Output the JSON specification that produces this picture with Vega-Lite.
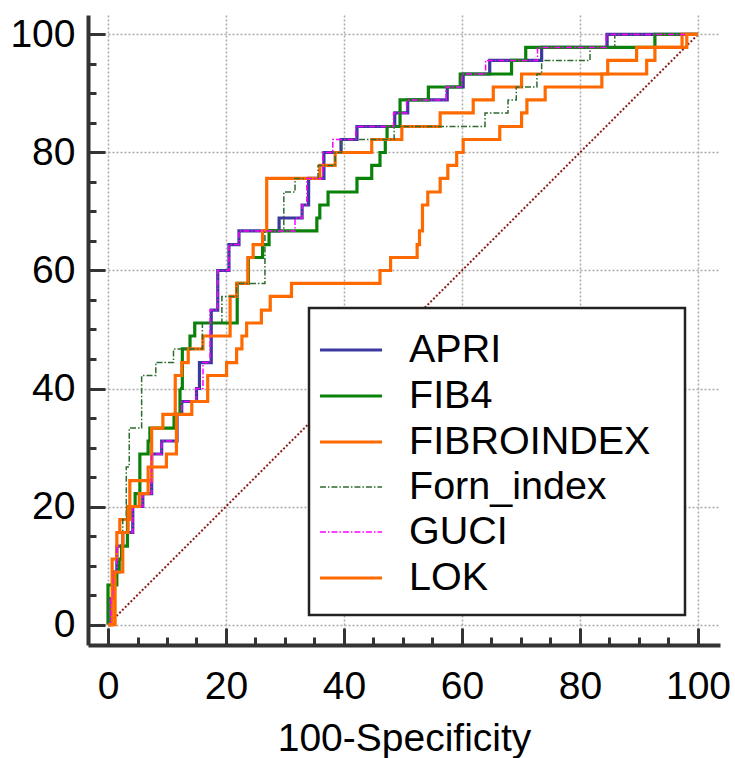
{
"$schema": "https://vega.github.io/schema/vega-lite/v6.json",
"width": 632, "height": 630,
"autosize": {"type": "none"},
"padding": {"left": 88, "top": 15, "right": 15, "bottom": 113},
"background": "white",
"config": {"view": {"stroke": null}, "font": "Liberation Sans",
"legend": {"title": "\u00a0", "titleOrient": "right", "titleFontSize": 1, "titlePadding": 18, "orient": "none", "legendX": 221, "legendY": 293, "labelFontSize": 39.5, "labelColor": "#000", "labelLimit": 500, "symbolType": "M-1.35,0L1.35,0", "symbolSize": 2116, "labelOffset": 33, "padding": 17, "rowPadding": 1.0, "fillColor": "white", "strokeColor": "#222"}},
"datasets": {
"diag": [{"x":0,"y":0},{"x":100,"y":100}],
"roc": [
{"s":"APRI","x":0,"y":0},{"s":"APRI","x":0.5,"y":0},{"s":"APRI","x":0.5,"y":4.4},{"s":"APRI","x":0.9,"y":4.4},{"s":"APRI","x":0.9,"y":8.9},{"s":"APRI","x":1.5,"y":8.9},{"s":"APRI","x":1.5,"y":13.3},{"s":"APRI","x":2.5,"y":13.3},{"s":"APRI","x":2.5,"y":15.6},{"s":"APRI","x":4.2,"y":15.6},{"s":"APRI","x":4.2,"y":20},{"s":"APRI","x":5.9,"y":20},{"s":"APRI","x":5.9,"y":22.2},{"s":"APRI","x":7.4,"y":22.2},{"s":"APRI","x":7.4,"y":28.9},{"s":"APRI","x":9.1,"y":28.9},{"s":"APRI","x":9.1,"y":31.1},{"s":"APRI","x":11.7,"y":31.1},{"s":"APRI","x":11.7,"y":35.6},{"s":"APRI","x":12.5,"y":35.6},{"s":"APRI","x":12.5,"y":37.8},{"s":"APRI","x":15,"y":37.8},{"s":"APRI","x":15,"y":40},{"s":"APRI","x":15.5,"y":40},{"s":"APRI","x":15.5,"y":44.4},{"s":"APRI","x":17.5,"y":44.4},{"s":"APRI","x":17.5,"y":53.3},{"s":"APRI","x":18.6,"y":53.3},{"s":"APRI","x":18.6,"y":60},{"s":"APRI","x":20.5,"y":60},{"s":"APRI","x":20.5,"y":64.4},{"s":"APRI","x":22.2,"y":64.4},{"s":"APRI","x":22.2,"y":66.7},{"s":"APRI","x":29,"y":66.7},{"s":"APRI","x":29,"y":68.9},{"s":"APRI","x":32.9,"y":68.9},{"s":"APRI","x":32.9,"y":71.1},{"s":"APRI","x":34,"y":71.1},{"s":"APRI","x":34,"y":75.6},{"s":"APRI","x":36.6,"y":75.6},{"s":"APRI","x":36.6,"y":80},{"s":"APRI","x":39.5,"y":80},{"s":"APRI","x":39.5,"y":82.2},{"s":"APRI","x":42.2,"y":82.2},{"s":"APRI","x":42.2,"y":84.4},{"s":"APRI","x":48.6,"y":84.4},{"s":"APRI","x":48.6,"y":86.7},{"s":"APRI","x":50.8,"y":86.7},{"s":"APRI","x":50.8,"y":88.9},{"s":"APRI","x":57.5,"y":88.9},{"s":"APRI","x":57.5,"y":91.1},{"s":"APRI","x":60.2,"y":91.1},{"s":"APRI","x":60.2,"y":93.3},{"s":"APRI","x":64.7,"y":93.3},{"s":"APRI","x":64.7,"y":95.6},{"s":"APRI","x":73.5,"y":95.6},{"s":"APRI","x":73.5,"y":97.8},{"s":"APRI","x":84.6,"y":97.8},{"s":"APRI","x":84.6,"y":100},{"s":"APRI","x":100,"y":100},
{"s":"FIB4","x":0,"y":0},{"s":"FIB4","x":0,"y":6.7},{"s":"FIB4","x":1.5,"y":6.7},{"s":"FIB4","x":1.5,"y":8.9},{"s":"FIB4","x":1.9,"y":8.9},{"s":"FIB4","x":1.9,"y":11.1},{"s":"FIB4","x":2.3,"y":11.1},{"s":"FIB4","x":2.3,"y":13.3},{"s":"FIB4","x":3.3,"y":13.3},{"s":"FIB4","x":3.3,"y":20},{"s":"FIB4","x":4.6,"y":20},{"s":"FIB4","x":4.6,"y":22.2},{"s":"FIB4","x":5.4,"y":22.2},{"s":"FIB4","x":5.4,"y":28.9},{"s":"FIB4","x":6.8,"y":28.9},{"s":"FIB4","x":6.8,"y":31.1},{"s":"FIB4","x":7.1,"y":31.1},{"s":"FIB4","x":7.1,"y":33.3},{"s":"FIB4","x":11.2,"y":33.3},{"s":"FIB4","x":11.2,"y":35.6},{"s":"FIB4","x":12.2,"y":35.6},{"s":"FIB4","x":12.2,"y":40},{"s":"FIB4","x":12.6,"y":40},{"s":"FIB4","x":12.6,"y":46.7},{"s":"FIB4","x":13.9,"y":46.7},{"s":"FIB4","x":13.9,"y":48.9},{"s":"FIB4","x":14.7,"y":48.9},{"s":"FIB4","x":14.7,"y":51.1},{"s":"FIB4","x":21.9,"y":51.1},{"s":"FIB4","x":21.9,"y":57.8},{"s":"FIB4","x":23.8,"y":57.8},{"s":"FIB4","x":23.8,"y":62.2},{"s":"FIB4","x":26.2,"y":62.2},{"s":"FIB4","x":26.2,"y":64.4},{"s":"FIB4","x":27.3,"y":64.4},{"s":"FIB4","x":27.3,"y":66.7},{"s":"FIB4","x":35.4,"y":66.7},{"s":"FIB4","x":35.4,"y":68.9},{"s":"FIB4","x":35.9,"y":68.9},{"s":"FIB4","x":35.9,"y":71.1},{"s":"FIB4","x":37.3,"y":71.1},{"s":"FIB4","x":37.3,"y":73.3},{"s":"FIB4","x":42.2,"y":73.3},{"s":"FIB4","x":42.2,"y":75.6},{"s":"FIB4","x":44.7,"y":75.6},{"s":"FIB4","x":44.7,"y":77.8},{"s":"FIB4","x":46.1,"y":77.8},{"s":"FIB4","x":46.1,"y":80},{"s":"FIB4","x":47,"y":80},{"s":"FIB4","x":47,"y":82.2},{"s":"FIB4","x":47.3,"y":82.2},{"s":"FIB4","x":47.3,"y":84.4},{"s":"FIB4","x":49.5,"y":84.4},{"s":"FIB4","x":49.5,"y":88.9},{"s":"FIB4","x":54.3,"y":88.9},{"s":"FIB4","x":54.3,"y":91.1},{"s":"FIB4","x":59.7,"y":91.1},{"s":"FIB4","x":59.7,"y":93.3},{"s":"FIB4","x":68.4,"y":93.3},{"s":"FIB4","x":68.4,"y":95.6},{"s":"FIB4","x":70.8,"y":95.6},{"s":"FIB4","x":70.8,"y":97.8},{"s":"FIB4","x":92.7,"y":97.8},{"s":"FIB4","x":92.7,"y":100},{"s":"FIB4","x":100,"y":100},
{"s":"FIBROINDEX","x":0,"y":0},{"s":"FIBROINDEX","x":0.7,"y":0},{"s":"FIBROINDEX","x":0.7,"y":11.1},{"s":"FIBROINDEX","x":1.5,"y":11.1},{"s":"FIBROINDEX","x":1.5,"y":15.6},{"s":"FIBROINDEX","x":2,"y":15.6},{"s":"FIBROINDEX","x":2,"y":17.8},{"s":"FIBROINDEX","x":3.7,"y":17.8},{"s":"FIBROINDEX","x":3.7,"y":24.4},{"s":"FIBROINDEX","x":7.4,"y":24.4},{"s":"FIBROINDEX","x":7.4,"y":33.3},{"s":"FIBROINDEX","x":9.3,"y":33.3},{"s":"FIBROINDEX","x":9.3,"y":35.6},{"s":"FIBROINDEX","x":11.4,"y":35.6},{"s":"FIBROINDEX","x":11.4,"y":42.2},{"s":"FIBROINDEX","x":12.5,"y":42.2},{"s":"FIBROINDEX","x":12.5,"y":44.4},{"s":"FIBROINDEX","x":13.6,"y":44.4},{"s":"FIBROINDEX","x":13.6,"y":46.7},{"s":"FIBROINDEX","x":16.1,"y":46.7},{"s":"FIBROINDEX","x":16.1,"y":48.9},{"s":"FIBROINDEX","x":20.7,"y":48.9},{"s":"FIBROINDEX","x":20.7,"y":55.6},{"s":"FIBROINDEX","x":21.8,"y":55.6},{"s":"FIBROINDEX","x":21.8,"y":57.8},{"s":"FIBROINDEX","x":23.7,"y":57.8},{"s":"FIBROINDEX","x":23.7,"y":62.2},{"s":"FIBROINDEX","x":24.6,"y":62.2},{"s":"FIBROINDEX","x":24.6,"y":64.4},{"s":"FIBROINDEX","x":26.2,"y":64.4},{"s":"FIBROINDEX","x":26.2,"y":66.7},{"s":"FIBROINDEX","x":26.9,"y":66.7},{"s":"FIBROINDEX","x":26.9,"y":75.6},{"s":"FIBROINDEX","x":35.9,"y":75.6},{"s":"FIBROINDEX","x":35.9,"y":77.8},{"s":"FIBROINDEX","x":38.5,"y":77.8},{"s":"FIBROINDEX","x":38.5,"y":80},{"s":"FIBROINDEX","x":44.7,"y":80},{"s":"FIBROINDEX","x":44.7,"y":82.2},{"s":"FIBROINDEX","x":49.8,"y":82.2},{"s":"FIBROINDEX","x":49.8,"y":84.4},{"s":"FIBROINDEX","x":56.3,"y":84.4},{"s":"FIBROINDEX","x":56.3,"y":86.7},{"s":"FIBROINDEX","x":61.9,"y":86.7},{"s":"FIBROINDEX","x":61.9,"y":88.9},{"s":"FIBROINDEX","x":65.3,"y":88.9},{"s":"FIBROINDEX","x":65.3,"y":91.1},{"s":"FIBROINDEX","x":70.1,"y":91.1},{"s":"FIBROINDEX","x":70.1,"y":93.3},{"s":"FIBROINDEX","x":84.7,"y":93.3},{"s":"FIBROINDEX","x":84.7,"y":95.6},{"s":"FIBROINDEX","x":89.6,"y":95.6},{"s":"FIBROINDEX","x":89.6,"y":97.8},{"s":"FIBROINDEX","x":97.3,"y":97.8},{"s":"FIBROINDEX","x":97.3,"y":100},{"s":"FIBROINDEX","x":100,"y":100},
{"s":"Forn_index","x":0,"y":0},{"s":"Forn_index","x":0,"y":4.4},{"s":"Forn_index","x":1,"y":4.4},{"s":"Forn_index","x":1,"y":8.9},{"s":"Forn_index","x":1.5,"y":8.9},{"s":"Forn_index","x":1.5,"y":13.3},{"s":"Forn_index","x":2.5,"y":13.3},{"s":"Forn_index","x":2.5,"y":17.8},{"s":"Forn_index","x":3.1,"y":17.8},{"s":"Forn_index","x":3.1,"y":26.7},{"s":"Forn_index","x":3.6,"y":26.7},{"s":"Forn_index","x":3.6,"y":33.3},{"s":"Forn_index","x":5.7,"y":33.3},{"s":"Forn_index","x":5.7,"y":42.2},{"s":"Forn_index","x":8.1,"y":42.2},{"s":"Forn_index","x":8.1,"y":44.4},{"s":"Forn_index","x":11.1,"y":44.4},{"s":"Forn_index","x":11.1,"y":46.7},{"s":"Forn_index","x":16,"y":46.7},{"s":"Forn_index","x":16,"y":51.1},{"s":"Forn_index","x":19.3,"y":51.1},{"s":"Forn_index","x":19.3,"y":55.6},{"s":"Forn_index","x":21.8,"y":55.6},{"s":"Forn_index","x":21.8,"y":57.8},{"s":"Forn_index","x":26.6,"y":57.8},{"s":"Forn_index","x":26.6,"y":66.7},{"s":"Forn_index","x":29.8,"y":66.7},{"s":"Forn_index","x":29.8,"y":73.3},{"s":"Forn_index","x":31.7,"y":73.3},{"s":"Forn_index","x":31.7,"y":75.6},{"s":"Forn_index","x":35.6,"y":75.6},{"s":"Forn_index","x":35.6,"y":77.8},{"s":"Forn_index","x":38.5,"y":77.8},{"s":"Forn_index","x":38.5,"y":80},{"s":"Forn_index","x":39.6,"y":80},{"s":"Forn_index","x":39.6,"y":82.2},{"s":"Forn_index","x":48.5,"y":82.2},{"s":"Forn_index","x":48.5,"y":84.4},{"s":"Forn_index","x":63.9,"y":84.4},{"s":"Forn_index","x":63.9,"y":86.7},{"s":"Forn_index","x":67.8,"y":86.7},{"s":"Forn_index","x":67.8,"y":88.9},{"s":"Forn_index","x":69.2,"y":88.9},{"s":"Forn_index","x":69.2,"y":91.1},{"s":"Forn_index","x":72.7,"y":91.1},{"s":"Forn_index","x":72.7,"y":93.3},{"s":"Forn_index","x":73.5,"y":93.3},{"s":"Forn_index","x":73.5,"y":95.6},{"s":"Forn_index","x":81.7,"y":95.6},{"s":"Forn_index","x":81.7,"y":97.8},{"s":"Forn_index","x":85.9,"y":97.8},{"s":"Forn_index","x":85.9,"y":100},{"s":"Forn_index","x":100,"y":100},
{"s":"GUCI","x":0,"y":0},{"s":"GUCI","x":0.5,"y":0},{"s":"GUCI","x":0.5,"y":4.4},{"s":"GUCI","x":0.9,"y":4.4},{"s":"GUCI","x":0.9,"y":8.9},{"s":"GUCI","x":1.5,"y":8.9},{"s":"GUCI","x":1.5,"y":13.3},{"s":"GUCI","x":2.5,"y":13.3},{"s":"GUCI","x":2.5,"y":15.6},{"s":"GUCI","x":4.2,"y":15.6},{"s":"GUCI","x":4.2,"y":20},{"s":"GUCI","x":5.9,"y":20},{"s":"GUCI","x":5.9,"y":22.2},{"s":"GUCI","x":7.4,"y":22.2},{"s":"GUCI","x":7.4,"y":28.9},{"s":"GUCI","x":9.1,"y":28.9},{"s":"GUCI","x":9.1,"y":31.1},{"s":"GUCI","x":11.7,"y":31.1},{"s":"GUCI","x":11.7,"y":35.6},{"s":"GUCI","x":12.5,"y":35.6},{"s":"GUCI","x":12.5,"y":37.8},{"s":"GUCI","x":14.9,"y":37.8},{"s":"GUCI","x":14.9,"y":40},{"s":"GUCI","x":16.1,"y":40},{"s":"GUCI","x":16.1,"y":44.4},{"s":"GUCI","x":17.3,"y":44.4},{"s":"GUCI","x":17.3,"y":53.3},{"s":"GUCI","x":18.6,"y":53.3},{"s":"GUCI","x":18.6,"y":60},{"s":"GUCI","x":20.5,"y":60},{"s":"GUCI","x":20.5,"y":64.4},{"s":"GUCI","x":22.2,"y":64.4},{"s":"GUCI","x":22.2,"y":66.7},{"s":"GUCI","x":31.7,"y":66.7},{"s":"GUCI","x":31.7,"y":68.9},{"s":"GUCI","x":32.9,"y":68.9},{"s":"GUCI","x":32.9,"y":71.1},{"s":"GUCI","x":33.7,"y":71.1},{"s":"GUCI","x":33.7,"y":75.6},{"s":"GUCI","x":36.4,"y":75.6},{"s":"GUCI","x":36.4,"y":80},{"s":"GUCI","x":38.1,"y":80},{"s":"GUCI","x":38.1,"y":82.2},{"s":"GUCI","x":42,"y":82.2},{"s":"GUCI","x":42,"y":84.4},{"s":"GUCI","x":48.4,"y":84.4},{"s":"GUCI","x":48.4,"y":86.7},{"s":"GUCI","x":50.6,"y":86.7},{"s":"GUCI","x":50.6,"y":88.9},{"s":"GUCI","x":57.3,"y":88.9},{"s":"GUCI","x":57.3,"y":91.1},{"s":"GUCI","x":60,"y":91.1},{"s":"GUCI","x":60,"y":93.3},{"s":"GUCI","x":64,"y":93.3},{"s":"GUCI","x":64,"y":95.6},{"s":"GUCI","x":72.8,"y":95.6},{"s":"GUCI","x":72.8,"y":97.8},{"s":"GUCI","x":84.4,"y":97.8},{"s":"GUCI","x":84.4,"y":100},{"s":"GUCI","x":100,"y":100},
{"s":"LOK","x":0,"y":0},{"s":"LOK","x":1.2,"y":0},{"s":"LOK","x":1.2,"y":8.9},{"s":"LOK","x":2.5,"y":8.9},{"s":"LOK","x":2.5,"y":15.6},{"s":"LOK","x":3.4,"y":15.6},{"s":"LOK","x":3.4,"y":20},{"s":"LOK","x":5.3,"y":20},{"s":"LOK","x":5.3,"y":22.2},{"s":"LOK","x":6.8,"y":22.2},{"s":"LOK","x":6.8,"y":26.7},{"s":"LOK","x":9.9,"y":26.7},{"s":"LOK","x":9.9,"y":28.9},{"s":"LOK","x":11.6,"y":28.9},{"s":"LOK","x":11.6,"y":35.6},{"s":"LOK","x":14.2,"y":35.6},{"s":"LOK","x":14.2,"y":37.8},{"s":"LOK","x":16.9,"y":37.8},{"s":"LOK","x":16.9,"y":42.2},{"s":"LOK","x":20.1,"y":42.2},{"s":"LOK","x":20.1,"y":44.4},{"s":"LOK","x":21.8,"y":44.4},{"s":"LOK","x":21.8,"y":46.7},{"s":"LOK","x":22.7,"y":46.7},{"s":"LOK","x":22.7,"y":48.9},{"s":"LOK","x":23.5,"y":48.9},{"s":"LOK","x":23.5,"y":51.1},{"s":"LOK","x":26,"y":51.1},{"s":"LOK","x":26,"y":53.3},{"s":"LOK","x":27.5,"y":53.3},{"s":"LOK","x":27.5,"y":55.6},{"s":"LOK","x":31.1,"y":55.6},{"s":"LOK","x":31.1,"y":57.8},{"s":"LOK","x":46.1,"y":57.8},{"s":"LOK","x":46.1,"y":60},{"s":"LOK","x":47.9,"y":60},{"s":"LOK","x":47.9,"y":62.2},{"s":"LOK","x":52.4,"y":62.2},{"s":"LOK","x":52.4,"y":64.4},{"s":"LOK","x":52.8,"y":64.4},{"s":"LOK","x":52.8,"y":66.7},{"s":"LOK","x":53.3,"y":66.7},{"s":"LOK","x":53.3,"y":71.1},{"s":"LOK","x":54.2,"y":71.1},{"s":"LOK","x":54.2,"y":73.3},{"s":"LOK","x":56.3,"y":73.3},{"s":"LOK","x":56.3,"y":75.6},{"s":"LOK","x":57.6,"y":75.6},{"s":"LOK","x":57.6,"y":77.8},{"s":"LOK","x":59.1,"y":77.8},{"s":"LOK","x":59.1,"y":80},{"s":"LOK","x":60.2,"y":80},{"s":"LOK","x":60.2,"y":82.2},{"s":"LOK","x":66.4,"y":82.2},{"s":"LOK","x":66.4,"y":84.4},{"s":"LOK","x":70.1,"y":84.4},{"s":"LOK","x":70.1,"y":86.7},{"s":"LOK","x":71,"y":86.7},{"s":"LOK","x":71,"y":88.9},{"s":"LOK","x":74.1,"y":88.9},{"s":"LOK","x":74.1,"y":91.1},{"s":"LOK","x":83.7,"y":91.1},{"s":"LOK","x":83.7,"y":93.3},{"s":"LOK","x":91.3,"y":93.3},{"s":"LOK","x":91.3,"y":95.6},{"s":"LOK","x":92.7,"y":95.6},{"s":"LOK","x":92.7,"y":97.8},{"s":"LOK","x":98.1,"y":97.8},{"s":"LOK","x":98.1,"y":100},{"s":"LOK","x":100,"y":100}
]
},
"layer": [
{
"data": {"name": "diag"},
"mark": {"type": "line", "color": "#8b1a1a", "strokeDash": [2, 2], "strokeWidth": 2},
"encoding": {
"x": {"field": "x", "type": "quantitative", "scale": {"domain": [-3.39, 103.73], "nice": false, "zero": false},
"axis": {"orient": "bottom", "values": [5,10,15,25,30,35,45,50,55,65,70,75,85,90,95], "labels": false, "domain": false, "grid": false, "title": null, "tickSize": -8, "tickWidth": 3, "tickColor": "#333"}},
"y": {"field": "y", "type": "quantitative", "scale": {"domain": [-3.47, 103.3], "nice": false, "zero": false},
"axis": {"orient": "left", "values": [5,10,15,25,30,35,45,50,55,65,70,75,85,90,95], "labels": false, "domain": false, "grid": false, "title": null, "tickSize": -8, "tickWidth": 3, "tickColor": "#333"}}
}
},
{
"data": {"name": "roc"},
"mark": {"type": "line", "strokeJoin": "miter", "strokeCap": "butt"},
"encoding": {
"x": {"field": "x", "type": "quantitative", "scale": {"domain": [-3.39, 103.73], "nice": false, "zero": false},
"axis": {"orient": "bottom", "values": [0,20,40,60,80,100], "domainColor": "#333", "domainWidth": 4, "tickColor": "#333", "tickWidth": 3, "tickSize": -17, "labelFontSize": 39, "labelColor": "#000", "labelPadding": 39, "labelFlush": false, "labelOverlap": false, "title": "100-Specificity", "titleFontSize": 39, "titleFontWeight": "normal", "titleColor": "#000", "titlePadding": 13, "grid": true, "gridColor": "#aaa", "gridDash": [2, 2], "gridWidth": 1.5}},
"y": {"field": "y", "type": "quantitative", "scale": {"domain": [-3.47, 103.3], "nice": false, "zero": false},
"axis": {"orient": "left", "values": [0,20,40,60,80,100], "domainColor": "#333", "domainWidth": 4, "tickColor": "#333", "tickWidth": 3, "tickSize": -17, "labelFontSize": 39, "labelColor": "#000", "labelPadding": 30, "labelFlush": false, "labelOverlap": false, "title": null, "grid": true, "gridColor": "#aaa", "gridDash": [2, 2], "gridWidth": 1.5}},
"order": [{"field": "x", "type": "quantitative"}, {"field": "y", "type": "quantitative"}],
"color": {"field": "s", "type": "nominal",
"scale": {"domain": ["APRI","FIB4","FIBROINDEX","Forn_index","GUCI","LOK"], "range": ["#3a3a9e","#0a820a","#ff6a00","#2e6b2e","#ff00ff","#ff6a00"]},
"legend": {"title": "\u00a0", "encode": {"legend": {"update": {"strokeWidth": {"value": 2.5}}}}}},
"strokeDash": {"field": "s", "type": "nominal",
"scale": {"domain": ["APRI","FIB4","FIBROINDEX","Forn_index","GUCI","LOK"], "range": [[1,0],[1,0],[1,0],[6,2,1.5,2],[6,2,1.5,2],[1,0]]},
"legend": {"title": "\u00a0", "encode": {"legend": {"update": {"strokeWidth": {"value": 2.5}}}}}},
"strokeWidth": {"field": "s", "type": "nominal",
"scale": {"type": "ordinal", "domain": ["APRI","FIB4","FIBROINDEX","Forn_index","GUCI","LOK"], "range": [3.2,3.2,3.2,1.5,1.5,3.2]},
"legend": {"title": "\u00a0", "encode": {"legend": {"update": {"strokeWidth": {"value": 2.5}}}}}}
}
}
],
"resolve": {"scale": {"x": "independent", "y": "independent"}}
}
